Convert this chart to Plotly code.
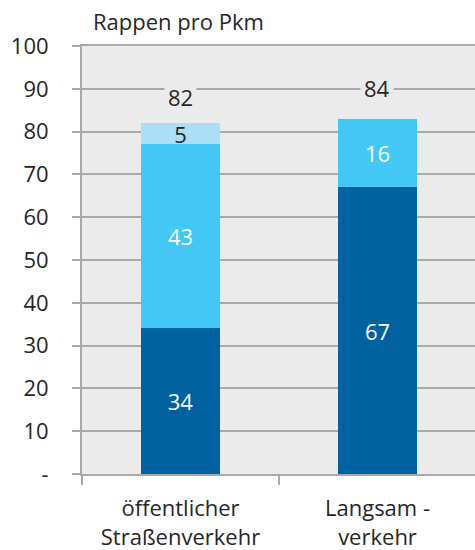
import plotly.graph_objects as go

# Kosten in Rappen pro Personenkilometer
categories = ["öffentlicher<br>Straßenverkehr", "Langsam -<br>verkehr"]
seg_lower = [34, 67]
seg_middle = [43, 16]
seg_upper = [5, None]
totals = [82, 84]

y_tick_vals = [0, 10, 20, 30, 40, 50, 60, 70, 80, 90, 100]
y_tick_text = ["-", "10", "20", "30", "40", "50", "60", "70", "80", "90", "100"]

FONT = "Open Sans"
TEXT = "#262626"
GRID = "#a9a9a9"
PLOT_BG = "#ebebeb"
DARK = "#00629f"
MID = "#43c8f5"
LIGHT = "#abdff7"
FS = 22

fig = go.Figure()
for vals, color, tcolor in [
    (seg_lower, DARK, "white"),
    (seg_middle, MID, "white"),
    (seg_upper, LIGHT, TEXT),
]:
    fig.add_trace(go.Bar(
        x=categories, y=vals, marker=dict(color=color, line=dict(width=0)),
        width=0.4,
        text=[("" if v is None else str(v)) for v in vals],
        textposition="inside", insidetextanchor="middle", textangle=0,
        textfont=dict(family=FONT, size=FS, color=tcolor),
        hoverinfo="skip",
    ))

# Summenwerte über den Säulen
for cat, tot in zip(categories, totals):
    fig.add_annotation(
        x=cat, y=tot, text=str(tot), showarrow=False,
        yanchor="bottom", yshift=7, bgcolor=PLOT_BG, borderpad=3,
        font=dict(family=FONT, size=FS, color=TEXT),
    )

fig.update_layout(
    width=475, height=550,
    barmode="stack", showlegend=False,
    paper_bgcolor="white", plot_bgcolor=PLOT_BG,
    margin=dict(l=82, r=0, t=46, b=76),
    font=dict(family=FONT, size=FS, color=TEXT),
    uniformtext=dict(minsize=FS, mode="show"),
    title=dict(text="Rappen pro Pkm", x=93 / 475, xanchor="left",
               y=1 - 22 / 550, yanchor="middle",
               font=dict(family=FONT, size=FS, color=TEXT)),
)
fig.update_yaxes(
    range=[0, 100], tickvals=y_tick_vals, ticktext=y_tick_text,
    showgrid=True, gridcolor=GRID, gridwidth=1.5, zeroline=False,
    showline=True, linecolor=GRID, linewidth=2,
    ticks="outside", ticklen=8, tickcolor=GRID, tickwidth=1.5,
    ticklabelstandoff=19,
    tickfont=dict(family=FONT, size=FS, color=TEXT),
)
fig.update_xaxes(
    range=[-0.5, 1.495], showgrid=False,
    showline=True, linecolor=GRID, linewidth=2, mirror=True,
    ticks="outside", tickson="boundaries", ticklen=9, tickcolor=GRID, tickwidth=1.5,
    ticklabelstandoff=14,
    tickfont=dict(family=FONT, size=FS, color=TEXT),
)

fig.write_html("out.html")
